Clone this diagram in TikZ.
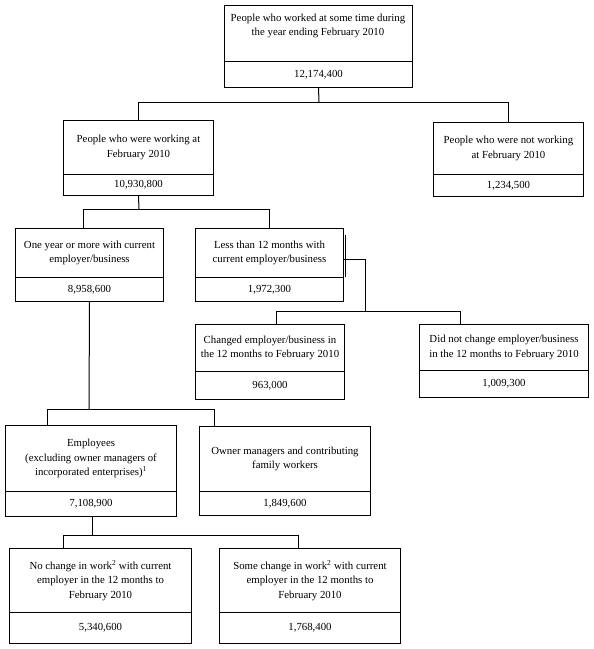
\documentclass[tikz,border=0pt]{standalone}
\usepackage{fontspec}
\setmainfont{Liberation Serif}
\begin{document}
\begin{tikzpicture}[x=1pt,y=-1pt,
  every node/.style={font=\fontsize{10.8}{14.5}\selectfont},
  part/.style={draw,line width=1pt,inner sep=0pt,align=center,anchor=north west},
  lbl/.style={align=center,inner sep=0pt},
  link/.style={line width=1pt}]
\useasboundingbox (0,0) rectangle (594,649);
% box 1
\node[part,minimum width=188,minimum height=56] (t1) at (224,5) {};
\node[lbl] (l1) at (318,26) {People who worked at some time during\\the year ending February 2010};
\node[part,minimum width=188,minimum height=26] (n1) at (224,61) {12,174,400};
% box 2
\node[part,minimum width=150,minimum height=54] (t2) at (63,120) {People who were working at\\February 2010};
\node[part,minimum width=150,minimum height=21] (n2) at (63,174) {10,930,800};
% box 3
\node[part,minimum width=150,minimum height=52] (t3) at (433,122) {People who were not working\\at February 2010};
\node[part,minimum width=150,minimum height=22] (n3) at (433,174) {1,234,500};
% box 4
\node[part,minimum width=148,minimum height=49] (t4) at (15,228) {One year or more with current\\employer/business};
\node[part,minimum width=148,minimum height=24] (n4) at (15,277) {8,958,600};
% box 5
\node[part,minimum width=148,minimum height=49] (t5) at (195,228) {Less than 12 months with\\current employer/business};
\node[part,minimum width=148,minimum height=24] (n5) at (195,277) {1,972,300};
% box 6
\node[part,minimum width=149,minimum height=47] (t6) at (195,324) {Changed employer/business in\\the 12 months to February 2010};
\node[part,minimum width=149,minimum height=28] (n6) at (195,371) {963,000};
% box 7
\node[part,minimum width=169,minimum height=46] (t7) at (419,324) {Did not change employer/business\\in the 12 months to February 2010};
\node[part,minimum width=169,minimum height=27] (n7) at (419,370) {1,009,300};
% box 8
\node[part,minimum width=171,minimum height=66] (t8) at (5,425) {Employees\\(excluding owner managers of\\incorporated enterprises)\textsuperscript{1}};
\node[part,minimum width=171,minimum height=25] (n8) at (5,491) {7,108,900};
% box 9
\node[part,minimum width=171,minimum height=65] (t9) at (199,426) {Owner managers and contributing\\family workers};
\node[part,minimum width=171,minimum height=24] (n9) at (199,491) {1,849,600};
% box 10
\node[part,minimum width=182,minimum height=64] (t10) at (9,548) {No change in work\textsuperscript{2} with current\\employer in the 12 months to\\February 2010};
\node[part,minimum width=182,minimum height=31] (n10) at (9,612) {5,340,600};
% box 11
\node[part,minimum width=181,minimum height=64] (t11) at (219,548) {Some change in work\textsuperscript{2} with current\\employer in the 12 months to\\February 2010};
\node[part,minimum width=181,minimum height=31] (n11) at (219,612) {1,768,400};
% connectors
\coordinate (j1) at (319,102);
\draw[link] (n1.south) -- (j1);
\draw[link] (t2.north) |- (j1);
\draw[link] (t3.north) |- (j1);
\coordinate (j2) at (139,209);
\draw[link] (n2.south) -- (j2);
\draw[link] ([xshift=68pt]t4.north west) |- (j2);
\draw[link] (t5.north) |- (j2);
\coordinate (j3) at (365,311);
\draw[link] ([yshift=-31pt]t5.north east) -| (j3);
\draw[link] ([xshift=1.5pt,yshift=-7pt]t5.north east) -- ([xshift=1.5pt,yshift=-49pt]t5.north east);
\draw[link] ([xshift=81pt]t6.north west) |- (j3);
\draw[link] ([xshift=41pt]t7.north west) |- (j3);
\coordinate (j4) at (89,409);
\draw[link] (n4.south) -- (j4);
\draw[link] ([xshift=42pt]t8.north west) |- (j4);
\draw[link] ([xshift=15pt]t9.north west) |- (j4);
\coordinate (j5) at (92,535);
\draw[link] (n8.south -| j5) -- (j5);
\draw[link] ([xshift=54pt]t10.north west) |- (j5);
\draw[link] ([xshift=79pt]t11.north west) |- (j5);
\end{tikzpicture}
\end{document}
